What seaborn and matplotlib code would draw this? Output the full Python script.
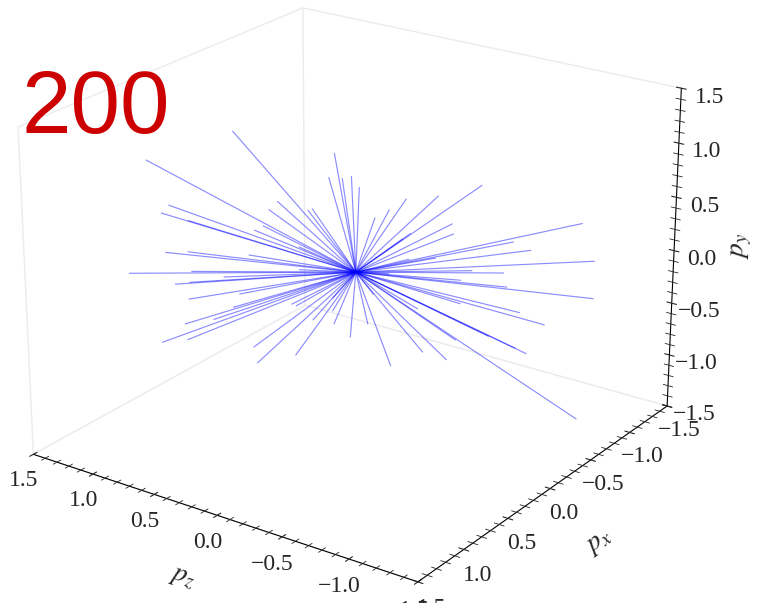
import matplotlib
matplotlib.use("Agg")
import matplotlib.pyplot as plt
import seaborn as sns
from matplotlib.ticker import MultipleLocator

# momentum end points of the particles (all start at the origin)
pz = [0.62, 1.06, 0.11, 0.14, 0.07, 0.02, -0.02, 0.40, 0.44, 0.95,
      0.99, 0.85, 0.24, 0.22, -0.26, -0.17, -0.10, -0.42, -0.64, -0.49,
      -0.50, -0.28, -1.16, -0.90, -0.81, -1.23, -0.76, -0.60, -1.23, -0.78,
      -0.98, -0.85, -0.54, -0.89, -0.83, -1.16, -0.47, -0.35, -0.52, -0.32,
      -0.18, -0.06, 0.03, 0.11, 0.31, 0.51, 0.53, 0.31, 1.00, 0.87,
      0.88, 0.73, 0.63, 0.86, 0.60, 0.93, 1.16, 0.85, 0.68, 0.84,
      0.97, 0.86, 0.55, 0.52, 0.47, 0.29, -0.17, -0.41, -0.27, -0.54,
      0.22, 0.12, -0.24, 0.29, 0.12, -0.09, -0.69, 0.33]
px = [0.47, 0.80, 0.08, 0.10, 0.05, 0.02, -0.01, 0.30, 0.34, 0.72,
      0.75, 0.65, 0.19, 0.17, -0.19, -0.13, -0.07, -0.32, -0.49, -0.38,
      -0.38, -0.21, -0.88, -0.68, -0.61, -0.93, -0.58, -0.45, -0.93, -0.59,
      -0.74, -0.64, -0.41, -0.67, -0.63, -0.88, -0.36, -0.26, -0.39, -0.24,
      -0.14, -0.05, 0.02, 0.09, 0.24, 0.39, 0.40, 0.23, 0.76, 0.66,
      0.67, 0.56, 0.48, 0.65, 0.45, 0.70, 0.88, 0.65, 0.51, 0.64,
      0.74, 0.65, 0.41, 0.39, 0.36, 0.22, -0.13, -0.31, -0.21, -0.41,
      0.17, 0.09, -0.18, 0.22, 0.09, -0.07, -0.52, 0.25]
py = [1.30, 1.05, 1.09, 0.87, 0.86, 0.88, 0.78, 0.66, 0.59, 0.64,
      0.57, 0.50, 0.58, 0.59, 0.67, 0.57, 0.50, 0.69, 0.78, 0.43,
      0.34, 0.35, 0.42, 0.18, 0.26, 0.07, -0.03, 0.00, -0.28, -0.16,
      -0.52, -0.40, -0.31, -0.79, -0.74, -1.43, -0.84, -0.76, -0.65, -0.35,
      -0.89, -0.49, -0.61, -0.48, -0.77, -0.84, -0.69, -0.31, -0.63, -0.61,
      -0.46, -0.42, -0.31, -0.23, -0.19, -0.09, 0.02, -0.07, -0.03, 0.03,
      0.21, 0.21, 0.17, 0.40, 0.44, 0.03, -0.02, 0.12, 0.11, -0.09,
      -0.44, -0.36, 0.30, 0.24, -0.24, -0.21, -0.62, -0.29]
n_particles = "200"
ticks = [-1.5, -1.0, -0.5, 0.0, 0.5, 1.0, 1.5]

sns.set_style("white")
plt.rcParams["font.family"] = ["Liberation Serif", "DejaVu Serif"]
plt.rcParams["mathtext.fontset"] = "stix"
plt.rcParams["axes.unicode_minus"] = True

fig = plt.figure(figsize=(7.69, 6.03), dpi=100)
ax = fig.add_axes([-0.130, -0.067, 1.16, 1.199], projection="3d")
ax.set_proj_type("persp", focal_length=0.75)

for a, b, c in zip(pz, px, py):
    ax.plot([0, a], [0, b], [0, c], color="blue", alpha=0.45, lw=0.85)

ax.view_init(elev=22.5, azim=125)
ax.set_xlim(-1.5, 1.5)
ax.set_ylim(-1.5, 1.5)
ax.set_zlim(-1.5, 1.5)
for axis in (ax.xaxis, ax.yaxis, ax.zaxis):
    axis.set_major_locator(MultipleLocator(0.5))
    axis.set_minor_locator(MultipleLocator(0.1))
    axis.set_pane_color((1, 1, 1, 1))
    axis.pane.set_edgecolor("#ebebf0")
    axis.pane.set_linewidth(1.0)
    axis.line.set_color("black")
    axis._axinfo["tick"]["inward_factor"] = 0.15
    axis._axinfo["tick"]["outward_factor"] = 0.15
ax.grid(False)
ax.set_xticks(ticks)
ax.set_yticks(ticks)
ax.set_zticks(ticks)
ax.tick_params(labelsize=17)
ax.tick_params(axis="x", pad=1)
ax.tick_params(axis="y", pad=1)
ax.tick_params(axis="z", pad=4)

ax.set_xlabel("$p_z$", fontsize=20, labelpad=12)
ax.set_ylabel("$p_x$", fontsize=20, labelpad=12)
ax.set_zlabel("$p_y$", fontsize=20, labelpad=8)

fig.text(0.028, 0.78, n_particles, color="#cc0000", fontsize=64,
         family="Liberation Sans")

fig.savefig("out.png", dpi=100)
